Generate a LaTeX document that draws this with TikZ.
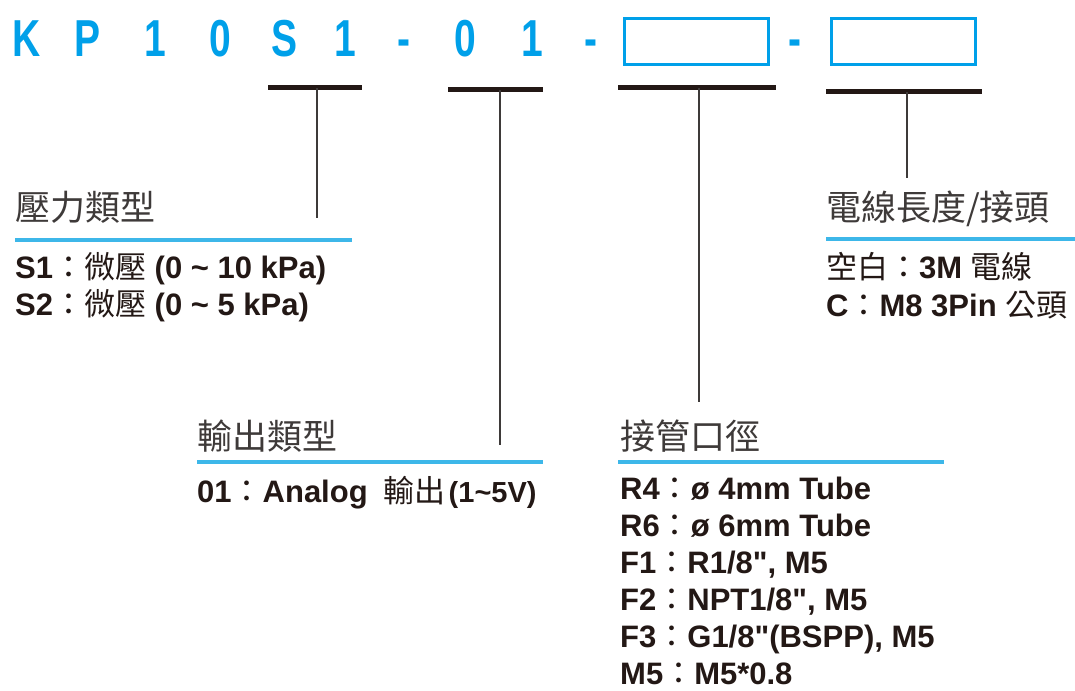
\documentclass[tikz,border=0pt]{standalone}
\usepackage{fontspec}
\setmainfont{Liberation Sans}
\newfontfamily\latinf{Liberation Sans}
\newfontfamily\cjk{Noto Sans CJK TC}
\newcommand\zhtext[1]{{\cjk\mdseries #1}}
\definecolor{titlecyan}{HTML}{00A0E9}
\definecolor{rulecol}{HTML}{3DB7E9}
\definecolor{ink}{HTML}{231815}
\definecolor{headcol}{HTML}{3E3A39}
\begin{document}
\begin{tikzpicture}[x=1pt,y=-1pt,
  ttl/.style={text=titlecyan, font=\latinf\bfseries\fontsize{52}{52}\selectfont, anchor=base, inner sep=0pt},
  codebox/.style={draw=titlecyan, line width=3pt, minimum width=144pt, minimum height=46pt, inner sep=0pt},
  bar/.style={fill=ink, minimum height=5pt, inner sep=0pt},
  conn/.style={draw=headcol, line width=1.3pt},
  rulesty/.style={draw=rulecol, line width=4pt},
  headsty/.style={anchor=base west, inner sep=0pt, text=headcol, font=\cjk\fontsize{35}{35}\selectfont},
  body/.style={anchor=base west, inner sep=0pt, text=ink, font=\latinf\bfseries\fontsize{31}{37}\selectfont}
]
\useasboundingbox[fill=white] (0,0) rectangle (1075,690);

% title
\node[ttl] (t1) at (27,57) {\scalebox{0.75}[1]{K}};
\node[ttl] (t2) at (88,57) {\scalebox{0.75}[1]{P}};
\node[ttl] (t3) at (155,57) {\scalebox{0.75}[1]{1}};
\node[ttl] (t4) at (220,57) {\scalebox{0.75}[1]{0}};
\node[ttl] (t5) at (285,57) {\scalebox{0.75}[1]{S}};
\node[ttl] (t6) at (345,57) {\scalebox{0.75}[1]{1}};
\node[ttl] (t7) at (404,57) {\scalebox{0.75}[1]{-}};
\node[ttl] (t8) at (465,57) {\scalebox{0.75}[1]{0}};
\node[ttl] (t9) at (532,57) {\scalebox{0.75}[1]{1}};
\node[ttl] (t10) at (591,57) {\scalebox{0.75}[1]{-}};
\node[codebox] (box1) at (696.5,41.5) {};
\node[ttl] (t11) at (795,57) {\scalebox{0.75}[1]{-}};
\node[codebox] (box2) at (903,41.5) {};

% bars
\node[bar, minimum width=94pt] (bar1) at (315,88) {};
\node[bar, minimum width=95pt] (bar2) at (495.5,90) {};
\node[bar, minimum width=158pt] (bar3) at (697,88) {};
\node[bar, minimum width=156pt] (bar4) at (904,92) {};

\coordinate (c1) at (317,218);
\coordinate (c2) at (500,445);
\coordinate (c3) at (699,402);
\coordinate (c4) at (907,178);
\draw[conn] (bar1.center -| c1) -- (c1);
\draw[conn] (bar2.center -| c2) -- (c2);
\draw[conn] (bar3.center -| c3) -- (c3);
\draw[conn] (bar4.center -| c4) -- (c4);

% group 1
\node[headsty] (h1) at (15,220) {壓力類型};
\draw[rulesty] (15,240) -- (352,240);
\node[body] (s1) at (15,278) {S1\zhtext{：微壓} (0 \textasciitilde{} 10 kPa)};
\node[body] (s2) at (15,315) {S2\zhtext{：微壓} (0 \textasciitilde{} 5 kPa)};

% group 2
\node[headsty] (h2) at (197,449) {輸出類型};
\draw[rulesty] (197,462) -- (543,462);
\node[body] (o1) at (197,502) {01\zhtext{：}Analog\hspace{16pt}\zhtext{輸出}\hspace{3pt}{\fontsize{29}{30}\selectfont(1\textasciitilde5V)}};

% group 3
\node[headsty] (h3) at (620,449) {接管口徑};
\draw[rulesty] (618,462) -- (944,462);
\node[body] (r4) at (620,499) {R4\zhtext{：}ø 4mm Tube};
\node[body] (r6) at (620,536) {R6\zhtext{：}ø 6mm Tube};
\node[body] (f1) at (620,573) {F1\zhtext{：}R1/8", M5};
\node[body] (f2) at (620,610) {F2\zhtext{：}NPT1/8", M5};
\node[body] (f3) at (620,647) {F3\zhtext{：}G1/8"(BSPP), M5};
\node[body, text depth=0pt] (m5) at (620,684) {M5\zhtext{：}M5*0.8};

% group 4
\node[headsty] (h4) at (826,220) {電線長度/接頭};
\draw[rulesty] (826,239) -- (1075,239);
\node[body] (k1) at (826,278) {\zhtext{空白：}3M \zhtext{電線}};
\node[body] (k2) at (826,316) {C\zhtext{：}M8 3Pin \zhtext{公頭}};
\end{tikzpicture}
\end{document}
